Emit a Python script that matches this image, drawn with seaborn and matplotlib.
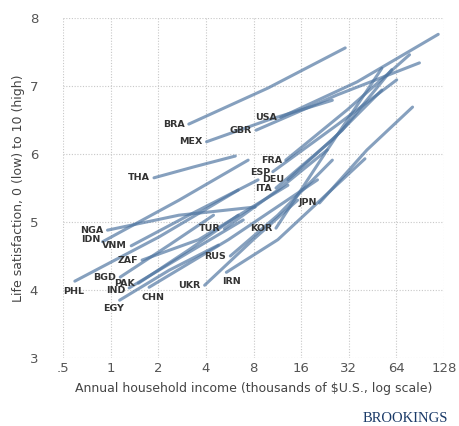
import matplotlib
matplotlib.use("Agg")
import matplotlib.pyplot as plt
import numpy as np
import pandas as pd
import seaborn as sns

# one line per country: income (thousands of $US) and life satisfaction at start / middle / end
countries = ["USA", "BRA", "GBR", "MEX", "THA", "FRA", "ESP", "DEU", "ITA", "JPN",
             "TUR", "KOR", "RUS", "UKR", "IRN", "NGA", "IDN", "VNM", "ZAF", "BGD",
             "PAK", "PHL", "IND", "CHN", "EGY"]
income_start = [11.9, 3.12, 8.31, 4.04, 1.88, 12.8, 10.6, 13.2, 11.1, 20.9,
                5.24, 11.1, 5.71, 3.93, 5.39, 0.956, 0.89, 1.35, 1.58, 1.15,
                1.50, 0.594, 1.31, 1.75, 1.14]
income_mid = [36.1, 9.88, 27.1, 9.88, 3.35, 31.3, 27.1, 29.1, 25.2, 41.7,
              11.4, 23.4, 11.4, 7.96, 11.4, 2.70, 2.70, 3.12, 3.60, 2.34,
              3.12, 2.02, 2.90, 5.55, 2.34]
income_end = [117.7, 30.4, 89.5, 25.2, 6.14, 77.5, 64.3, 59.8, 51.8, 81.0,
              23.4, 51.8, 25.2, 15.2, 40.5, 8.19, 7.40, 8.55, 13.2, 4.47,
              6.41, 6.41, 6.89, 20.3, 4.80]
sat_start = [6.54, 6.44, 6.35, 6.18, 5.65, 5.91, 5.74, 5.62, 5.50, 5.28,
             4.90, 4.91, 4.50, 4.07, 4.26, 4.88, 4.71, 4.65, 4.44, 4.19,
             4.10, 4.13, 4.03, 4.04, 3.85]
sat_mid = [7.06, 6.97, 6.87, 6.50, 5.81, 6.65, 6.43, 6.35, 6.21, 6.06,
           5.47, 6.06, 5.10, 4.74, 4.74, 5.10, 5.32, 5.10, 4.74, 4.66,
           4.59, 4.78, 4.51, 4.74, 4.29]
sat_end = [7.76, 7.56, 7.34, 6.79, 5.97, 7.46, 7.09, 7.24, 6.94, 6.69,
           6.06, 7.26, 5.91, 5.32, 5.93, 5.22, 5.91, 5.62, 5.54, 5.10,
           5.10, 5.47, 5.03, 5.62, 4.66]

x_ticks = [0.5, 1, 2, 4, 8, 16, 32, 64, 128]
x_tick_labels = [".5", "1", "2", "4", "8", "16", "32", "64", "128"]
y_ticks = [3, 4, 5, 6, 7, 8]

# label placement relative to line start (pixels, ha)
label_pos = {
    "PHL": (-1, -10, "center"),
    "EGY": (-6, -8, "center"),
    "CHN": (4, -10, "center"),
    "IRN": (5, -9, "center"),
    "IDN": (-2, 2, "right"),
    "ESP": (-2, -1, "right"),
    "JPN": (-2, 0, "right"),
    "IND": (-4, -3, "right"),
}

rows = []
for i, c in enumerate(countries):
    for inc, sat in [(income_start[i], sat_start[i]), (income_mid[i], sat_mid[i]),
                     (income_end[i], sat_end[i])]:
        rows.append({"country": c, "income": inc, "satisfaction": sat})
df = pd.DataFrame(rows)

sns.set_style("white")
plt.rcParams["font.family"] = ["DejaVu Sans"]

fig = plt.figure(figsize=(4.59, 4.26), dpi=100)
ax = fig.add_axes([63 / 459, 1 - 358 / 426, (444 - 63) / 459, (358 - 18) / 426])

sns.lineplot(data=df, x="income", y="satisfaction", units="country", estimator=None,
             color="#4d74a0", alpha=0.68, linewidth=2.2, sort=False, ax=ax,
             solid_capstyle="round", solid_joinstyle="round")

ax.set_xscale("log", base=2)
ax.set_xlim(0.5, 128)
ax.set_ylim(3, 8)
ax.set_xticks(x_ticks)
ax.set_xticklabels(x_tick_labels)
ax.set_yticks(y_ticks)
ax.minorticks_off()
ax.grid(True, linestyle=(0, (1, 1.5)), color="#c8c8c8", linewidth=0.8)
ax.set_axisbelow(True)
for s in ax.spines.values():
    s.set_visible(False)
ax.tick_params(length=0, labelsize=9.5, labelcolor="#555555")
ax.tick_params(axis="y", pad=18)
ax.tick_params(axis="x", pad=3)

ax.set_xlabel("Annual household income (thousands of $U.S., log scale)",
              fontsize=9, color="#444444", labelpad=5)
ax.set_ylabel("Life satisfaction, 0 (low) to 10 (high)", fontsize=9,
              color="#444444", labelpad=3)

for i, c in enumerate(countries):
    dx, dy, ha = label_pos.get(c, (-4, 0, "right"))
    ax.annotate(c, (income_start[i], sat_start[i]), xytext=(dx, dy),
                textcoords="offset pixels", ha=ha, va="center",
                fontsize=6.8, fontweight="bold", color="#333333")

fig.text(448 / 459, 1 - 418 / 426, "BROOKINGS", ha="right", va="center",
         fontsize=10.5, family="Liberation Serif", color="#1a3a68")

fig.savefig("out.png", dpi=100)
